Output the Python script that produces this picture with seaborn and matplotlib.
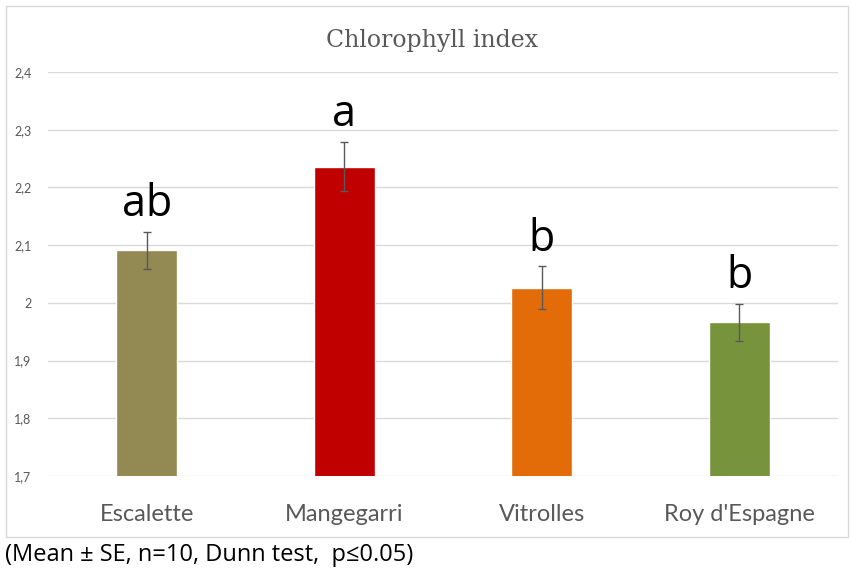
import pandas as pd
import matplotlib.pyplot as plt
import seaborn as sns
from matplotlib.patches import Rectangle

sites = ["Escalette", "Mangegarri", "Vitrolles", "Roy d'Espagne"]
means = [2.091, 2.236, 2.026, 1.966]
se = [0.032, 0.043, 0.037, 0.032]
letters = ["ab", "a", "b", "b"]
colors = ["#938953", "#C00000", "#E36C09", "#77933C"]
yticks = [1.7, 1.8, 1.9, 2.0, 2.1, 2.2, 2.3, 2.4]

df = pd.DataFrame({"site": sites, "mean": means, "se": se})

sns.set_style("white")
plt.rcParams['font.family'] = ['Lato', 'DejaVu Sans']

fig = plt.figure(figsize=(8.51, 5.73), dpi=100)
# outer chart frame
fig.patches.append(Rectangle((6/851, 1-537/573), 842/851, 531/573, transform=fig.transFigure,
                             fill=False, edgecolor="#D9D9D9", lw=1))
ax = fig.add_axes([48/851, 1-476/573, 790/851, 404/573])

sns.barplot(data=df, x="site", y="mean", hue="site", palette=colors, width=0.31,
            saturation=1, legend=False, ax=ax, zorder=3)
ax.errorbar(range(len(sites)), means, yerr=se, fmt="none", ecolor="#595959",
            elinewidth=1, capsize=3, capthick=1, zorder=4)

for i, (m, s, l) in enumerate(zip(means, se, letters)):
    ax.text(i, m + s + 0.008, l, ha="center", va="bottom", fontsize=31,
            family=['Open Sans', 'DejaVu Sans'], color="black")

ax.set_ylim(1.7, 2.4)
ax.set_xlim(-0.5, 3.5)
ax.set_yticks(yticks)
ax.set_yticklabels([("%g" % v).replace(".", ",") for v in yticks], fontsize=9, color="#595959")
ax.tick_params(axis="y", length=0, pad=12)
ax.tick_params(axis="x", length=0, pad=20, labelsize=17, labelcolor="#595959")
ax.grid(axis="y", color="#D9D9D9", lw=1, zorder=0)
ax.set_axisbelow(True)
for sp in ax.spines.values():
    sp.set_visible(False)
ax.set_xlabel("")
ax.set_ylabel("")

fig.text(432/851, 1-40/573, "Chlorophyll index", ha="center", va="center",
         fontsize=17, color="#595959", family=['DejaVu Serif'])
fig.text(5/851, 1-555/573, "(Mean \u00b1 SE, n=10, Dunn test,  p\u22640.05)", ha="left", va="center",
         fontsize=17, family=['Open Sans', 'DejaVu Sans'], color="black")

fig.savefig("out.png", dpi=100)
